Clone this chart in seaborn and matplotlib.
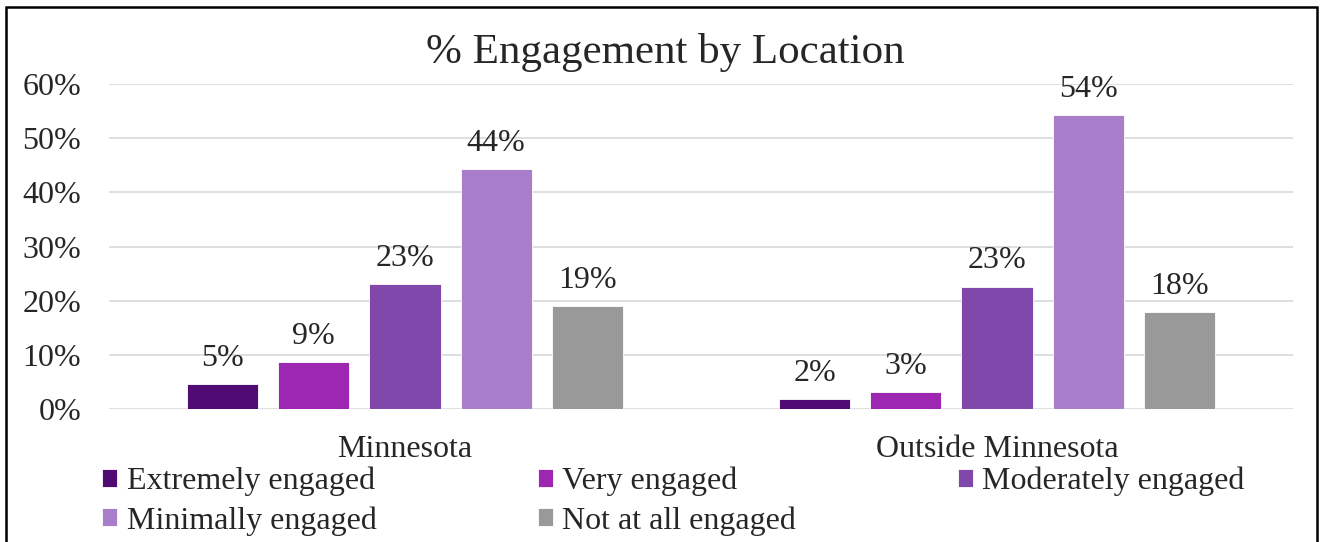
import pandas as pd
import numpy as np
import matplotlib.pyplot as plt
import seaborn as sns
from matplotlib.patches import Rectangle

sns.set_style('white')
plt.rcParams['font.family'] = ['Liberation Serif', 'DejaVu Serif']

# data
locations = ['Minnesota', 'Outside Minnesota']
levels = ['Extremely engaged', 'Very engaged', 'Moderately engaged',
          'Minimally engaged', 'Not at all engaged']
minnesota = [4.6, 8.6, 23.1, 44.3, 19.0]
outside = [1.8, 3.1, 22.6, 54.2, 17.9]
colors = ['#500C73', '#9D27B0', '#8048AA', '#A87DC9', '#999999']

df = pd.DataFrame({
    'Location': np.repeat(locations, len(levels)),
    'Level': levels * len(locations),
    'Pct': minnesota + outside,
})

FS = 23
TXT = '#262626'

fig = plt.figure(figsize=(13.23, 5.42), dpi=100)
ax = fig.add_axes([109 / 1323, 1 - 409 / 542, (1293 - 109) / 1323, (409 - 84) / 542])

sns.barplot(data=df, x='Location', y='Pct', hue='Level', hue_order=levels,
            palette=colors, saturation=1, width=0.77, gap=0.22, ax=ax, legend=True,
            edgecolor='white', linewidth=0.6)

for cont in ax.containers:
    ax.bar_label(cont, labels=[f'{v:.0f}%' for v in cont.datavalues],
                 padding=8, fontsize=FS, color=TXT)

ax.set_ylim(0, 60)
ax.set_yticks(range(0, 61, 10))
ax.set_yticklabels([f'{t}%' for t in range(0, 61, 10)])
ax.yaxis.grid(True, color='#D9D9D9', linewidth=1.2)
ax.set_axisbelow(True)
ax.tick_params(axis='y', labelsize=FS, length=0, pad=20, labelcolor=TXT)
ax.tick_params(axis='x', labelsize=FS, length=0, pad=19, labelcolor=TXT)
ax.set_xlabel('')
ax.set_ylabel('')
sns.despine(ax=ax, left=True, top=True, right=True, bottom=True)

fig.text(665 / 1323, 1 - 53 / 542, '% Engagement by Location',
         ha='center', va='center', fontsize=31, color=TXT)

# legend row-major order with 3 columns
handles, labels = ax.get_legend_handles_labels()
order = [0, 3, 1, 4, 2]
ax.legend([handles[i] for i in order], [labels[i] for i in order],
          ncol=3, loc='upper left', bbox_to_anchor=(86 / 1323, 1 - 451 / 542),
          bbox_transform=fig.transFigure, frameon=False, fontsize=FS,
          handlelength=0.47, handleheight=0.47, handletextpad=0.3,
          columnspacing=5.05, labelspacing=0.3, borderpad=0, labelcolor=TXT)

# outer chart frame
fig.patches.append(Rectangle((6 / 1323, -0.02), (1317 - 6) / 1323, 1 - 7 / 542 + 0.02,
                             transform=fig.transFigure, fill=False,
                             edgecolor='black', linewidth=1.8))

plt.savefig('out.png', dpi=100)
plt.close()
